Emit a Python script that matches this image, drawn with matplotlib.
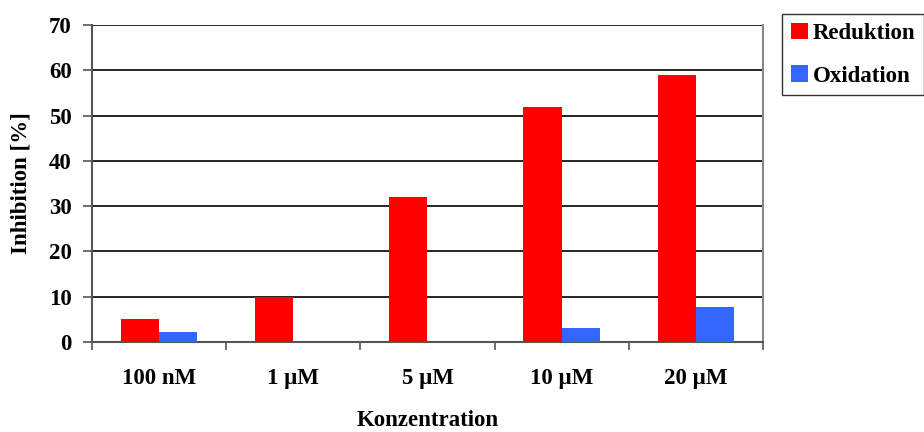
import numpy as np
import matplotlib
matplotlib.use("Agg")
import matplotlib.pyplot as plt

plt.rcParams['font.family'] = ['Liberation Serif', 'DejaVu Serif']
plt.rcParams['font.weight'] = 'bold'

categories = ['100 nM', '1 µM', '5 µM', '10 µM', '20 µM']
reduktion = [5, 10, 32, 52, 59]
oxidation = [2.2, 0, 0, 3.1, 7.7]
series_names = ['Reduktion', 'Oxidation']
colors = ['#ff0000', '#3366ff']
FS = 16.5

fig = plt.figure(figsize=(9.24, 4.32), dpi=100)
ax = fig.add_axes([92 / 924, 1 - 342 / 432, (763 - 92) / 924, (342 - 25) / 432])

x = np.arange(len(categories))
w = 1 / 3.5
ax.bar(x - w / 2, reduktion, w, color=colors[0], label=series_names[0], zorder=3)
ax.bar(x + w / 2, oxidation, w, color=colors[1], label=series_names[1], zorder=3)

ax.set_xlim(-0.5, len(categories) - 0.5)
ax.set_ylim(0, 70)
ax.set_yticks(range(0, 71, 10))
ax.yaxis.grid(True, color='black', linewidth=1.2, zorder=1)
ax.set_axisbelow(True)

# category separators as major ticks, labels on minor ticks
ax.set_xticks(np.arange(-0.5, len(categories), 1))
ax.set_xticklabels([])
ax.set_xticks(x, minor=True)
ax.set_xticklabels(categories, minor=True, fontsize=FS, fontweight='bold')
ax.tick_params(axis='x', which='minor', length=0, pad=19)
ax.tick_params(axis='x', which='major', length=6, width=1.2, color='#555555', direction='out')
ax.tick_params(axis='y', length=6.5, width=1.2, color='#555555', labelsize=FS, pad=8)
for lab in ax.get_yticklabels():
    lab.set_fontweight('bold')

for side in ['left', 'bottom']:
    ax.spines[side].set_color('#555555')
    ax.spines[side].set_linewidth(1.5)
ax.spines['top'].set_visible(False)
ax.spines['right'].set_color('#888888')
ax.spines['right'].set_linewidth(1.5)

ax.set_ylabel('Inhibition [%]', fontsize=FS, fontweight='bold', va='center', ha='center')
ax.yaxis.set_label_coords((21 - 92) / 671, 0.5)
ax.set_xlabel('Konzentration', fontsize=FS, fontweight='bold', va='baseline', ha='center')
ax.xaxis.set_label_coords(0.5, -(426 - 342) / 317)

leg = fig.legend(loc='upper left', bbox_to_anchor=(782 / 924, 1 - 14 / 432),
                 fontsize=FS, frameon=True, fancybox=False, edgecolor='black',
                 handlelength=0.75, handleheight=0.75, handletextpad=0.2,
                 borderpad=0.38, labelspacing=0.92, borderaxespad=0)
leg.get_frame().set_linewidth(1.0)
for t in leg.get_texts():
    t.set_fontweight('bold')

fig.savefig('out.png', dpi=100)
